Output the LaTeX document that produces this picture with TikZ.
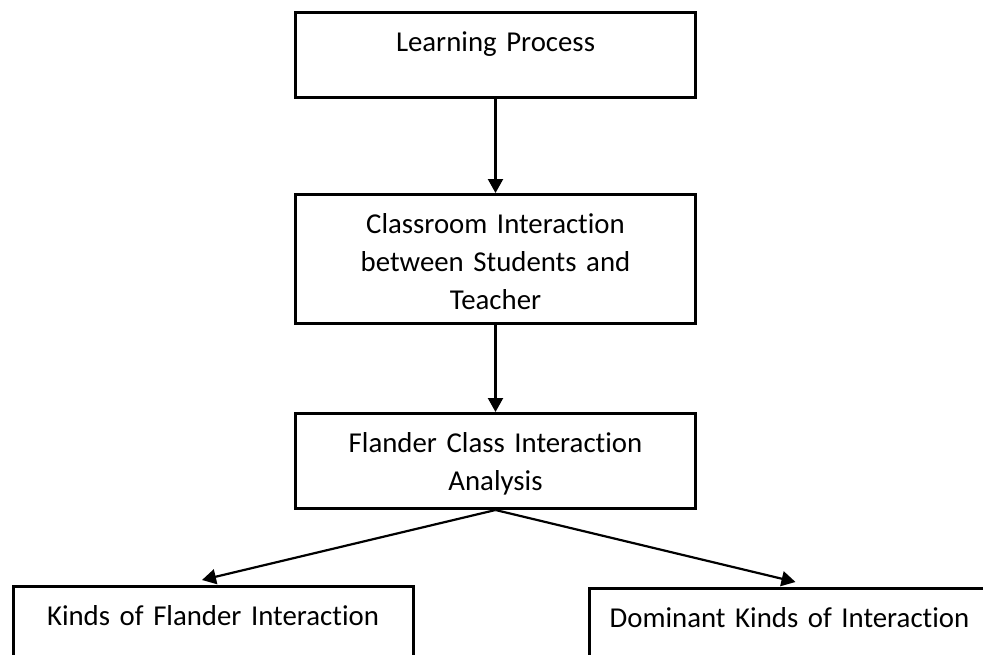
\documentclass[tikz,border=0pt]{standalone}
\usepackage{fontspec}
\setmainfont{Carlito}[Ligatures=NoCommon]
\usetikzlibrary{
    positioning,
    arrows.meta
}
\tikzset{%
    stage/.style={%
        rectangle,
        draw,
        line width=3pt,
        inner sep = 0pt,
        text width=400pt,
        align=center,
        text height=39pt,
        font=\fontsize{28.8}{38}\selectfont
    },
    flow/.style={%
        line width=2.2pt,
        -{Triangle[length=14pt,width=15pt]},
    },
}

\begin{document}
\begin{tikzpicture}[x=1pt, y=1pt]
    \useasboundingbox (0,0) rectangle (983,-654);

    \node[stage, text depth=46pt, anchor=north west] (learning) at (294,-11) {Learning Process};
    \node[stage, text depth=90pt, below=94pt of learning] (classroom) {Classroom Interaction\\ between Students and\\ Teacher};
    \node[stage, text depth=56pt, below=87pt of classroom] (analysis) {Flander Class Interaction\\ Analysis};

    \node[stage, text depth=100pt, below=75pt of analysis, xshift=-282.5pt] (kinds) {Kinds of Flander Interaction};
    \node[stage, text depth=100pt, below=77pt of analysis, xshift=294pt] (dominant) {Dominant Kinds of Interaction};

    \draw[flow] (learning) -- (classroom);
    \draw[flow] (classroom) -- (analysis);
    \draw[flow] (analysis.south) -- ([xshift=-11pt, yshift=5pt]kinds.north);
    \draw[flow] (analysis.south) -- ([xshift=6pt, yshift=5pt]dominant.north);
\end{tikzpicture}
\end{document}
